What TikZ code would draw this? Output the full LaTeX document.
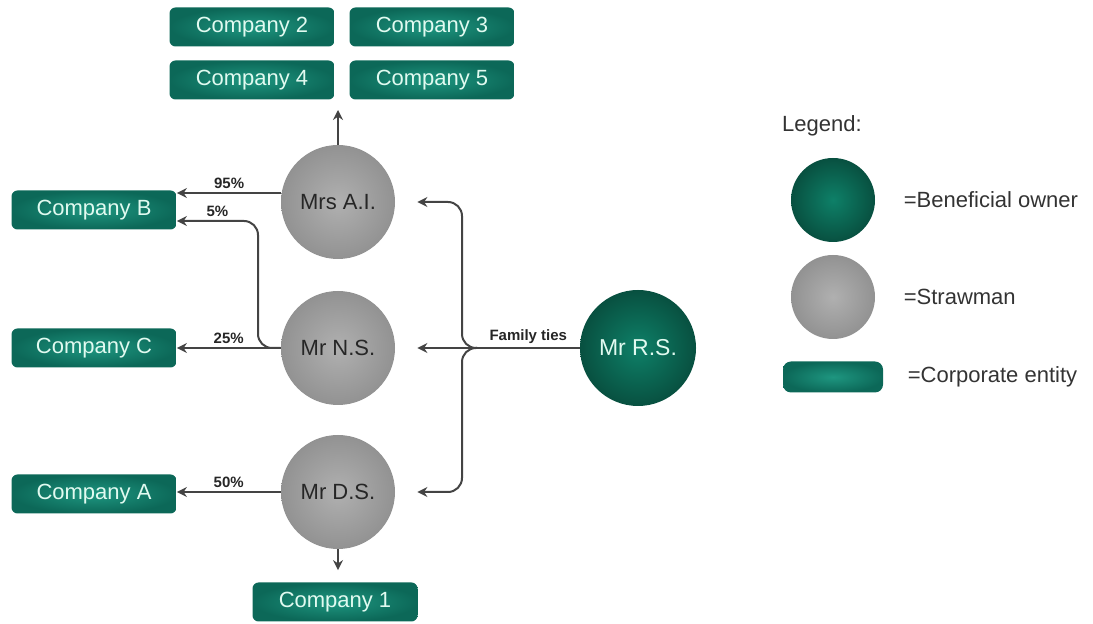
\documentclass[tikz,border=0pt]{standalone}
\usepackage{fontspec}
\setmainfont{Liberation Sans}
\usetikzlibrary{positioning,calc,arrows.meta}

\definecolor{boxlight}{RGB}{30,150,128}
\definecolor{boxdark}{RGB}{12,104,88}
\definecolor{boxtext}{RGB}{225,250,240}
\definecolor{ownlight}{RGB}{14,128,104}
\definecolor{owndark}{RGB}{8,80,64}
\definecolor{strawlight}{RGB}{176,176,176}
\definecolor{strawdark}{RGB}{146,146,146}
\definecolor{linegray}{RGB}{68,68,68}

\begin{document}
\begin{tikzpicture}[x=0.5pt,y=-0.5pt,
	company/.style={rounded corners=3pt, minimum width=82.5pt, minimum height=19.5pt, inner color=boxlight, outer color=boxdark, text=boxtext, font=\fontsize{11}{13}\selectfont},
	straw/.style={circle, minimum size=57pt, inner color=strawlight, outer color=strawdark, text=black!85, font=\fontsize{11}{13}\selectfont},
	owner/.style={circle, minimum size=58pt, inner color=ownlight, outer color=owndark, text=boxtext, font=\fontsize{11.5}{13}\selectfont},
	arr/.style={draw=linegray, line width=1pt, -{Stealth[length=5pt,width=5pt]}},
	pct/.style={font=\bfseries\fontsize{7.5}{9}\selectfont, text=black!85, inner sep=1.5pt}
	]
	\useasboundingbox (0,0) rectangle (1093,624);
	% companies
	\node [company] (C2) at (252,27) {Company 2};
	\node [company] (C3) at (432,27) {Company 3};
	\node [company] (C4) at (252,80) {Company 4};
	\node [company] (C5) at (432,80) {Company 5};
	\node [company] (CB) at (94,210) {Company B};
	\node [company] (CC) at (94,348) {Company C};
	\node [company] (CA) at (94,494) {Company A};
	\node [company] (C1) at (335,602) {Company 1};
	% people
	\node [straw] (AI) at (338,202) {Mrs A.I.};
	\node [straw] (NS) at (338,348) {Mr N.S.};
	\node [straw] (DS) at (338,492) {Mr D.S.};
	\node [owner] (RS) at (638,348) {Mr R.S.};
	\coordinate (up) at (339,110);
	\coordinate (bend5) at (258,221);
	\coordinate (fork) at (477,348);
	\coordinate (trunk) at (462,348);
	% shares
	\path [arr] (AI.north) -- (AI.north |- up);
	\path [arr] (AI.171) -- (AI.171 -| CB.east) node[midway, above, pct]{95\%};
	\path [arr, rounded corners=7pt] (NS.west) -| (bend5) -- (bend5 -| CB.east) node[midway, above, pct]{5\%};
	\path [arr] (NS.west) -- (CC.east) node[midway, above, pct]{25\%};
	\path [arr] (DS.west) -- (CA.east |- DS.west) node[midway, above, pct]{50\%};
	\path [arr, shorten >=6pt] (DS.south) -- (DS.south |- C1.north);
	% family ties
	\path [draw=linegray, line width=1pt] (RS.west) -- (fork) node[midway, above, pct]{Family ties};
	\path [arr, shorten >=11pt] (fork) -- (NS.east);
	\path [arr, shorten >=11pt, rounded corners=7pt] (fork) -- (trunk) -- (trunk |- AI.east) -- (AI.east);
	\path [arr, shorten >=11pt, rounded corners=7pt] (fork) -- (trunk) -- (trunk |- DS.east) -- (DS.east);
	% legend
	\node [font=\fontsize{11}{13}\selectfont, text=black!80] (leg) at (822,126) {Legend:};
	\node [owner, minimum size=42pt] (Lown) at (833,200) {};
	\node [straw, minimum size=42pt] (Lstraw) at (833,297) {};
	\node [company, rounded corners=4pt, minimum width=50pt, minimum height=15.5pt] (Lcorp) at (833,377) {};
	\node [right=14pt of Lown, font=\fontsize{11}{13}\selectfont, text=black!80, inner sep=0pt] {=Beneficial owner};
	\node [right=14pt of Lstraw, font=\fontsize{11}{13}\selectfont, text=black!80, inner sep=0pt] {=Strawman};
	\node [right=12pt of Lcorp, font=\fontsize{11}{13}\selectfont, text=black!80, inner sep=0pt] {=Corporate entity};
\end{tikzpicture}
\end{document}
